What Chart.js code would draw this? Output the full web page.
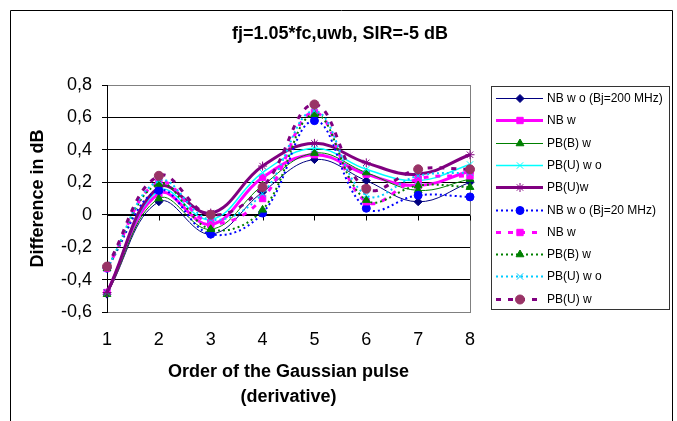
<!DOCTYPE html>
<html>
<head>
<meta charset="utf-8">
<script src="https://cdn.jsdelivr.net/npm/chart.js@4/dist/chart.umd.min.js"></script>
<style>
  html, body { margin: 0; padding: 0; background: #fff; }
  #wrap { width: 677px; height: 421px; }
</style>
</head>
<body>
<div id="wrap"><canvas id="line-chart" width="677" height="421"></canvas></div>
<script>

// values
var chartTitle = "fj=1.05*fc,uwb, SIR=-5 dB"
var orders = ["1", "2", "3", "4", "5", "6", "7", "8"]
var seriesNames = ["NB w o (Bj=200 MHz)", "NB w", "PB(B) w", "PB(U) w o", "PB(U)w",
                   "NB w o (Bj=20 MHz)", "NB w", "PB(B) w", "PB(U) w o", "PB(U) w"]

var nbWo200   = [-0.49, 0.08, -0.12, 0.14, 0.34, 0.21, 0.08, 0.20]
var nbW200    = [-0.48, 0.13, -0.06, 0.23, 0.37, 0.25, 0.18, 0.27]
var pbBW200   = [-0.49, 0.10, -0.09, 0.18, 0.38, 0.26, 0.15, 0.22]
var pbUWo200  = [-0.48, 0.15, -0.03, 0.26, 0.41, 0.28, 0.21, 0.31]
var pbUW200   = [-0.48, 0.17, 0.01, 0.30, 0.44, 0.32, 0.25, 0.37]

var nbWo20    = [-0.33, 0.15, -0.12, 0.01, 0.58, 0.04, 0.12, 0.11]
var nbW20     = [-0.33, 0.20, -0.05, 0.10, 0.63, 0.08, 0.22, 0.24]
var pbBW20    = [-0.33, 0.19, -0.09, 0.03, 0.62, 0.09, 0.18, 0.17]
var pbUWo20   = [-0.33, 0.21, -0.03, 0.13, 0.64, 0.12, 0.24, 0.26]
var pbUW20    = [-0.32, 0.24, 0.00, 0.17, 0.68, 0.16, 0.28, 0.28]

var yTicks = [-0.6, -0.4, -0.2, 0, 0.2, 0.4, 0.6, 0.8]

// one dataset in Excel look
function serie(label, data, color, width, style, radius, dash, markColor) {
  return {
    label: label,
    data: data,
    borderColor: color,
    borderWidth: width,
    borderDash: dash || [],
    pointStyle: style,
    pointRadius: radius,
    pointHoverRadius: radius,
    pointBackgroundColor: markColor || color,
    pointBorderColor: markColor || color,
    pointBorderWidth: 1,
    tension: 0.4,
    fill: false
  }
}

var sets = [
  serie(seriesNames[0], nbWo200, "#000080", 1, "rectRot", 4),
  serie(seriesNames[1], nbW200, "#FF00FF", 3, "rect", 4.5),
  serie(seriesNames[2], pbBW200, "#008000", 1, "triangle", 4.5),
  serie(seriesNames[3], pbUWo200, "#00FFFF", 1.5, "crossRot", 4.5),
  serie(seriesNames[4], pbUW200, "#800080", 3, "star", 4.5),
  serie(seriesNames[5], nbWo20, "#0000FF", 2, "circle", 4, [2, 3]),
  serie(seriesNames[6], nbW20, "#FF00FF", 3, "rect", 4.5, [5, 7]),
  serie(seriesNames[7], pbBW20, "#008000", 2, "triangle", 4.5, [2, 3]),
  serie(seriesNames[8], pbUWo20, "#00CCFF", 2, "crossRot", 4.5, [2, 3]),
  serie(seriesNames[9], pbUW20, "#800080", 3, "circle", 4.5, [5, 7], "#993366")
]
// later series on top, like Excel
sets.forEach(function (d, i) { d.order = 20 - i })

var font = "'Liberation Sans', Arial, sans-serif"

// frame, title, right border of plot area, tick marks on the zero line, legend
var excelBits = {
  id: "excelBits",
  beforeDraw: function (chart) {
    var ctx = chart.ctx
    ctx.save()
    ctx.strokeStyle = "#000"
    ctx.lineWidth = 1
    ctx.beginPath()
    ctx.moveTo(10.5, 430); ctx.lineTo(10.5, 10.5); ctx.lineTo(672.5, 10.5); ctx.lineTo(672.5, 430)
    ctx.stroke()
    ctx.fillStyle = "#000"
    ctx.font = "bold 18px " + font
    ctx.textAlign = "center"
    ctx.textBaseline = "middle"
    ctx.fillText(chartTitle, 340, 34)
    ctx.restore()
  },
  beforeDatasetsDraw: function (chart) {
    var ctx = chart.ctx, a = chart.chartArea
    var xs = chart.scales.x, ys = chart.scales.y
    ctx.save()
    ctx.strokeStyle = "#808080"
    ctx.lineWidth = 1
    ctx.beginPath()
    ctx.moveTo(Math.round(a.right) + 0.5, a.top)
    ctx.lineTo(Math.round(a.right) + 0.5, a.bottom)
    ctx.stroke()
    var y0 = Math.round(ys.getPixelForValue(0)) + 0.5
    ctx.strokeStyle = "#000"
    ctx.beginPath()
    ctx.moveTo(a.left, y0); ctx.lineTo(a.right, y0)
    for (var i = 0; i < orders.length; i++) {
      var x = Math.round(xs.getPixelForValue(i)) + 0.5
      ctx.moveTo(x, y0); ctx.lineTo(x, y0 + 5)
    }
    ctx.stroke()
    ctx.restore()
  },
  afterDraw: function (chart) {
    var ctx = chart.ctx
    var bx = 491.5, by = 86.5, bw = 178, bh = 223
    ctx.save()
    ctx.fillStyle = "#fff"
    ctx.fillRect(bx, by, bw, bh)
    ctx.strokeStyle = "#333"
    ctx.lineWidth = 1
    ctx.strokeRect(bx, by, bw, bh)
    ctx.font = "12px " + font
    ctx.textBaseline = "middle"
    ctx.textAlign = "left"
    chart.data.datasets.forEach(function (d, i) {
      var ry = Math.round(98 + i * 22.3) + 0.5
      ctx.save()
      ctx.strokeStyle = d.borderColor
      ctx.lineWidth = d.borderWidth
      ctx.setLineDash(d.borderDash)
      ctx.beginPath()
      ctx.moveTo(496, ry); ctx.lineTo(543, ry)
      ctx.stroke()
      ctx.setLineDash([])
      ctx.fillStyle = d.pointBackgroundColor
      ctx.strokeStyle = d.pointBorderColor
      ctx.lineWidth = 1
      if (Chart.helpers && Chart.helpers.drawPoint) {
        Chart.helpers.drawPoint(ctx, {pointStyle: d.pointStyle, radius: d.pointRadius, rotation: 0, borderWidth: 1}, 520, ry)
      } else {
        ctx.beginPath(); ctx.arc(520, ry, d.pointRadius, 0, Math.PI * 2); ctx.fill()
      }
      ctx.restore()
      ctx.fillStyle = "#000"
      ctx.fillText(d.label, 547, ry)
    })
    ctx.restore()
  }
}

new Chart(document.getElementById("line-chart"), {
  type: "line",
  data: {
    labels: orders,
    datasets: sets
  },
  plugins: [excelBits],
  options: {
    responsive: false,
    animation: false,
    events: [],
    layout: { padding: { left: 23, right: 207, top: 85, bottom: 7.5 } },
    plugins: {
      legend: { display: false },
      tooltip: { enabled: false },
      title: { display: false }
    },
    scales: {
      x: {
        offset: false,
        grid: { display: false, drawTicks: false },
        border: { display: true, color: "#808080", width: 1 },
        ticks: { color: "#000", font: { family: font, size: 18 }, padding: 17, maxRotation: 0, autoSkip: false },
        title: {
          display: true,
          text: ["Order of the Gaussian pulse", "(derivative)"],
          color: "#000",
          font: { family: font, size: 18, weight: "bold", lineHeight: 1.39 },
          padding: { top: 4, bottom: 4 }
        },
        afterFit: function (s) { s.height = 101.5 }
      },
      y: {
        min: -0.6,
        max: 0.8,
        afterBuildTicks: function (s) { s.ticks = yTicks.map(function (v) { return { value: v } }) },
        grid: {
          color: function (c) {
            var v = c.tick ? c.tick.value : 0
            return (Math.abs(v - 0.8) < 1e-6 || Math.abs(v + 0.6) < 1e-6) ? "#808080" : "#000"
          },
          tickColor: "#000",
          tickLength: 5,
          lineWidth: 1
        },
        border: { display: true, color: "#000", width: 1 },
        ticks: {
          color: "#000",
          font: { family: font, size: 18 },
          padding: 10,
          callback: function (v) {
            var r = Math.round(v * 10) / 10
            return String(r).replace(".", ",")
          }
        },
        title: {
          display: true,
          text: "Difference in dB",
          color: "#000",
          font: { family: font, size: 18, weight: "bold", lineHeight: 1.2 },
          padding: { top: 4, bottom: 4 }
        },
        afterFit: function (s) { s.width = 84 }
      }
    }
  }
})
</script>
</body>
</html>
